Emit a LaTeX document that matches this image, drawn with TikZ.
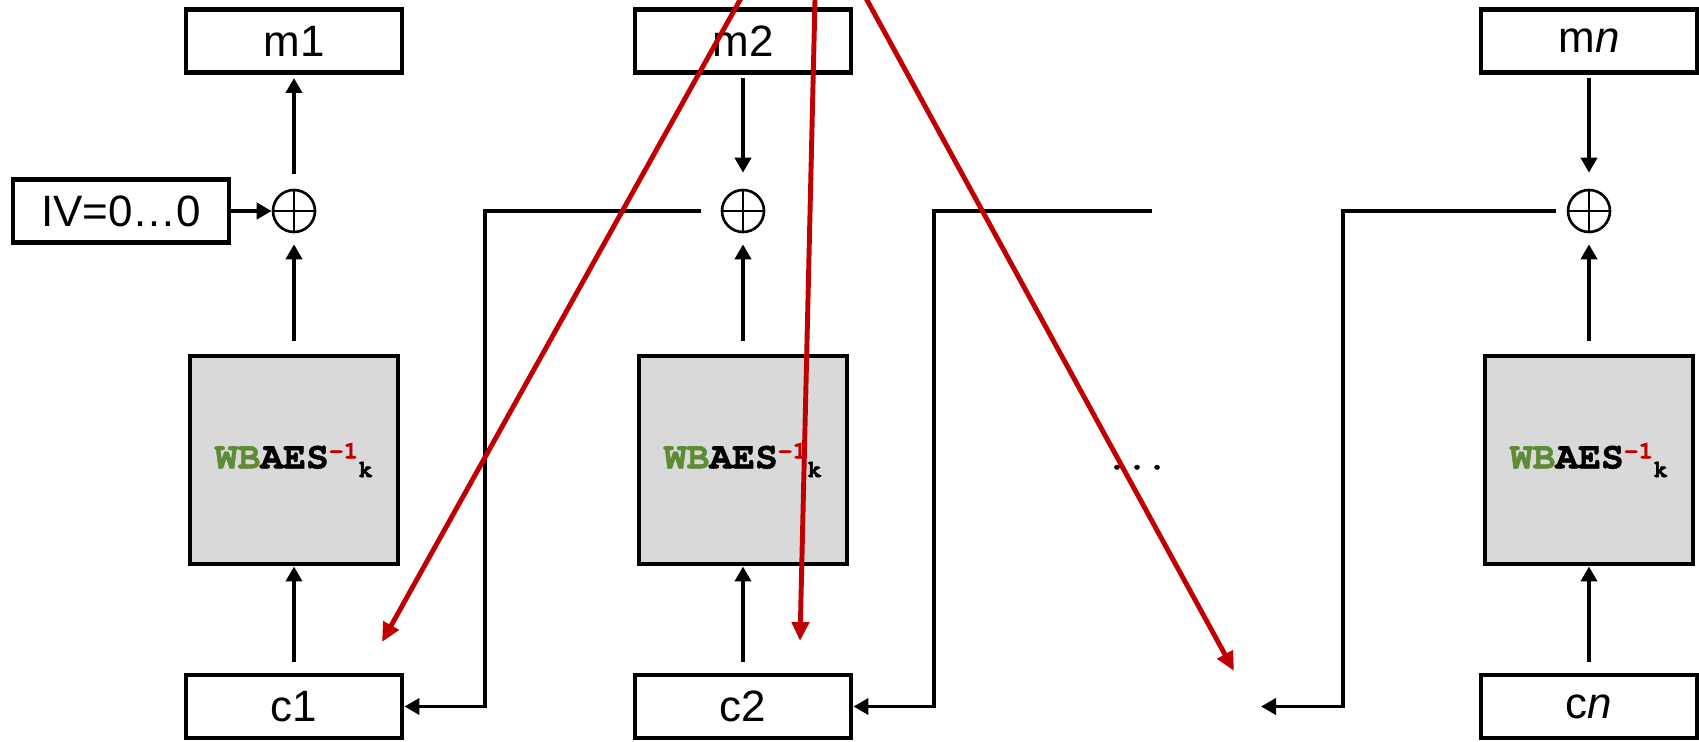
\documentclass[tikz,border=0pt]{standalone}
\usepackage{fontspec}
\setmainfont{Liberation Sans}
\newfontfamily\courfont[BoldFeatures={FakeBold=1.2}]{TeX Gyre Cursor}
\usetikzlibrary{arrows.meta}
\definecolor{wbgreen}{RGB}{94,140,52}
\definecolor{hintred}{RGB}{192,0,0}
\definecolor{boxgray}{RGB}{217,217,217}
\newcommand{\wbaes}{{\courfont\bfseries\fontsize{10.8}{12}\selectfont\textcolor{wbgreen}{WB}AES\raisebox{2.8pt}{\fontsize{7}{8}\selectfont\textcolor{hintred}{-1}}\raisebox{-2.5pt}{\fontsize{7}{8}\selectfont k}}}

\begin{document}
\begin{tikzpicture}[
  blk/.style={draw, line width=1.4pt, minimum width=2.16cm, minimum height=0.63cm, inner sep=0pt, font=\fontsize{12.5}{14}\selectfont},
  dec/.style={draw, line width=1.4pt, fill=boxgray, minimum size=2.08cm, inner sep=0pt},
  xorop/.style={circle, draw, line width=0.75pt, minimum size=0.42cm, inner sep=0pt,
    path picture={\draw[line width=0.75pt] (path picture bounding box.north) -- (path picture bounding box.south)
      (path picture bounding box.west) -- (path picture bounding box.east);}},
  flow/.style={line width=1.1pt, -{Triangle[length=0.15cm,width=0.16cm]}},
  hint/.style={line width=1.4pt, draw=hintred, -{Triangle[length=0.19cm,width=0.17cm]}, shorten <=-0.1cm}
]
\useasboundingbox (0,0) rectangle (16.990,7.410);
\begin{scope}[shift={(2.940,0.000)}]
\node[blk] (m1) at (0,7.000) {m1};
\node[xorop] (xor1) at (0,5.300) {};
\node[dec] (wb1) at (0,2.810) {\wbaes};
\node[blk] (c1) at (0,0.345) {c1};
\draw[flow, shorten <=0.11cm] (c1) -- (wb1);
\draw[flow, shorten <=0.13cm, shorten >=0.11cm] (wb1) -- (xor1);
\draw[flow, shorten <=0.15cm, shorten >=0.03cm] (xor1) -- (m1);
\end{scope}
\node[blk] (iv) at (1.210,5.300) {IV=0\dots0};
\draw[flow] (iv) -- (xor1);
\begin{scope}[shift={(7.430,0.000)}]
\node[blk] (m2) at (0,7.000) {m2};
\node[xorop] (xor2) at (0,5.300) {};
\node[dec] (wb2) at (0,2.810) {\wbaes};
\node[blk] (c2) at (0,0.345) {c2};
\draw[flow, shorten <=0.11cm] (c2) -- (wb2);
\draw[flow, shorten <=0.13cm, shorten >=0.11cm] (wb2) -- (xor2);
\draw[flow, shorten <=0.03cm, shorten >=0.16cm] (m2) -- (xor2);
\end{scope}
\begin{scope}[shift={(15.890,0.000)}]
\node[blk] (mn) at (0,7.000) {m\textit{n}};
\node[xorop] (xorn) at (0,5.300) {};
\node[dec] (wbn) at (0,2.810) {\wbaes};
\node[blk] (cn) at (0,0.345) {c\textit{n}};
\draw[flow, shorten <=0.11cm] (cn) -- (wbn);
\draw[flow, shorten <=0.13cm, shorten >=0.11cm] (wbn) -- (xorn);
\draw[flow, shorten <=0.03cm, shorten >=0.16cm] (mn) -- (xorn);
\end{scope}
\node[font=\courfont\bfseries\fontsize{9.5}{10}\selectfont, anchor=base] (dots) at (11.370,2.720) {...};
\coordinate (gap2) at (11.520,5.300);
\coordinate (gapn) at (12.610,0.345);
\draw[flow] ([xshift=-0.20cm]xor2.west) -- ++(-2.160,0) |- (c1.east);
\draw[flow] (gap2) -- ++(-2.180,0) |- (c2.east);
\draw[flow] ([xshift=-0.11cm]xorn.west) -- ++(-2.130,0) |- (gapn);
\coordinate (r1) at (7.400,7.410);
\coordinate (t1) at (3.820,0.990);
\coordinate (r2) at (8.150,7.410);
\coordinate (t2) at (8.000,1.000);
\coordinate (r3) at (8.670,7.410);
\coordinate (t3) at (12.340,0.700);
\draw[hint] (r1) -- (t1);
\draw[hint] (r2) -- (t2);
\draw[hint] (r3) -- (t3);
\end{tikzpicture}
\end{document}
